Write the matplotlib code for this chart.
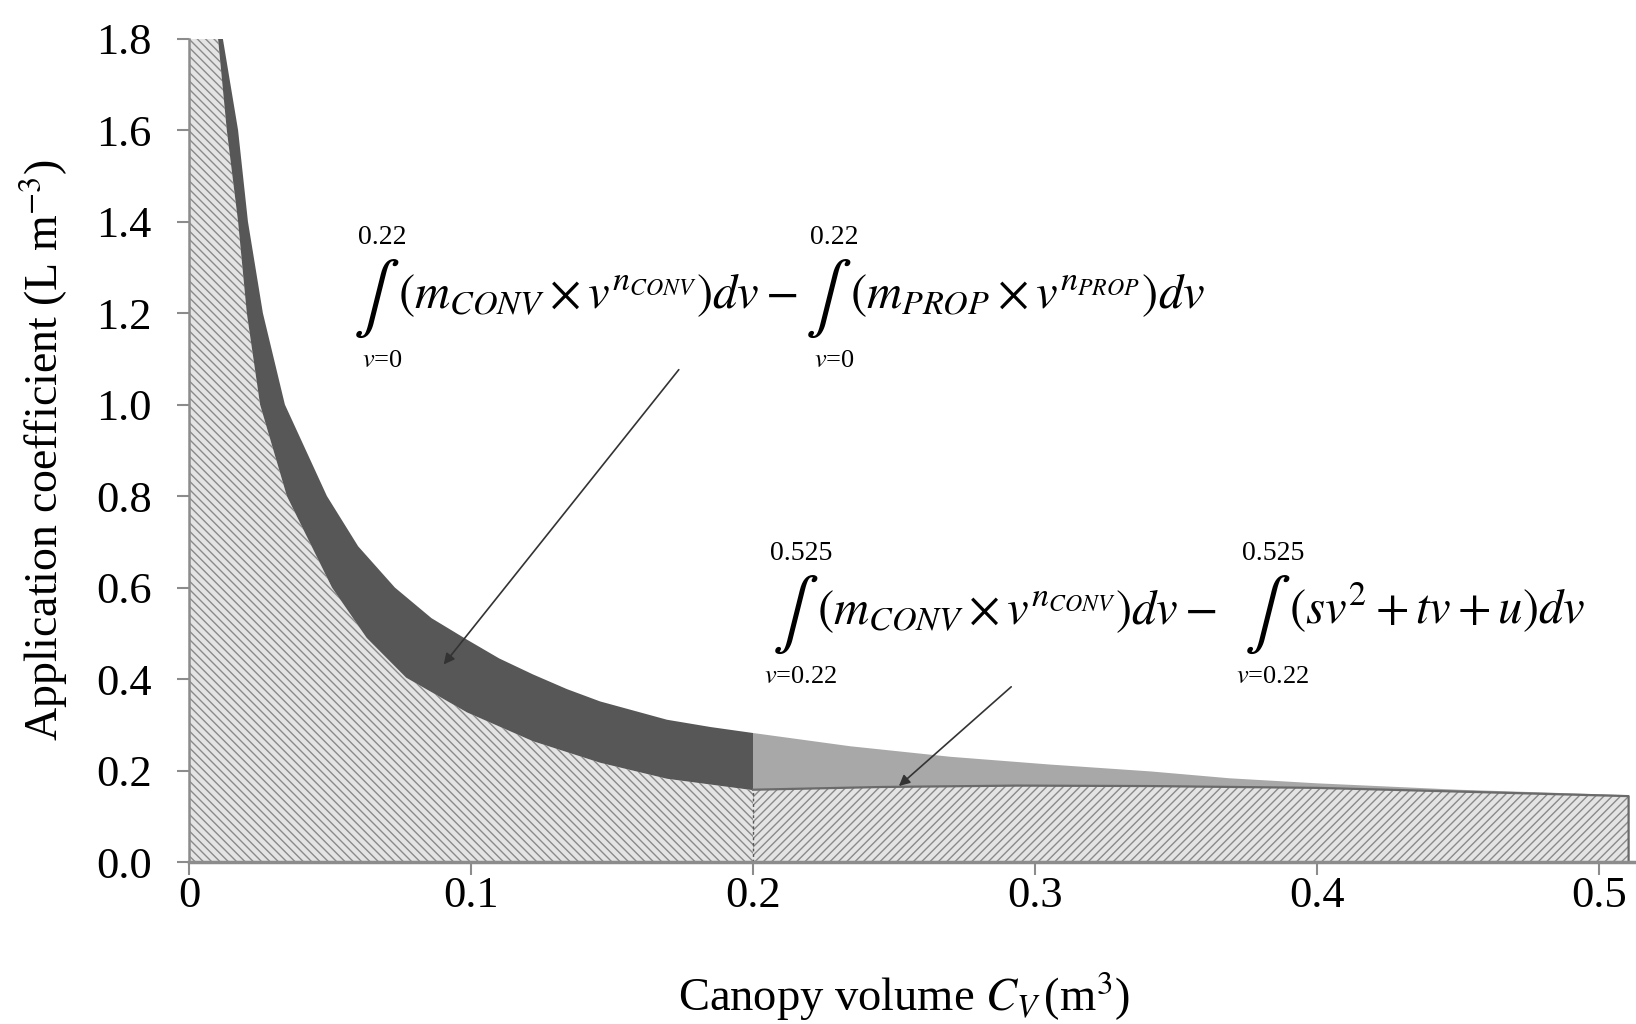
import numpy as np
import matplotlib.pyplot as plt

plt.rcParams['font.family'] = ['Liberation Serif', 'DejaVu Serif']
plt.rcParams['mathtext.fontset'] = 'stix'
plt.rcParams['hatch.linewidth'] = 1.0

# values
# upper curve: conventional application coefficient
conv_x = [0.0120, 0.0174, 0.0209, 0.0262, 0.0340, 0.0489, 0.0600, 0.0730, 0.0860, 0.0986,
          0.1100, 0.1220, 0.1340, 0.1458, 0.1695, 0.1850, 0.2000, 0.2345, 0.2700, 0.3054,
          0.3410, 0.3690, 0.4000, 0.4500, 0.5105]
conv_y = [1.80, 1.60, 1.40, 1.20, 1.00, 0.80, 0.690, 0.600, 0.533, 0.486,
          0.445, 0.410, 0.378, 0.351, 0.311, 0.295, 0.282, 0.253, 0.230, 0.213,
          0.198, 0.183, 0.172, 0.158, 0.146]
# lower curve: proportional application (up to 0.2)
prop_x = [0.0, 0.0103, 0.0134, 0.0174, 0.0205, 0.0252, 0.0347, 0.0507, 0.0630, 0.0770,
          0.0986, 0.1220, 0.1458, 0.1695, 0.2000]
prop_y = [1.80, 1.80, 1.60, 1.40, 1.20, 1.00, 0.80, 0.60, 0.490, 0.403,
          0.327, 0.264, 0.217, 0.182, 0.157]
# quadratic part (0.2 onwards)
quad_x = [0.2000, 0.2460, 0.2935, 0.3410, 0.4000, 0.4500, 0.5105]
quad_y = [0.158, 0.164, 0.167, 0.166, 0.162, 0.154, 0.144]
split_x = 0.2

x_ticks = [0, 0.1, 0.2, 0.3, 0.4, 0.5]
x_labels = ['0', '0.1', '0.2', '0.3', '0.4', '0.5']
y_ticks = [0.0, 0.2, 0.4, 0.6, 0.8, 1.0, 1.2, 1.4, 1.6, 1.8]

W, H = 1636, 1024
fig = plt.figure(figsize=(W / 100, H / 100), dpi=100)
ax = fig.add_axes([189 / W, 1 - 862 / H, (W - 189) / W, (862 - 38.6) / H])

conv_x = np.array(conv_x); conv_y = np.array(conv_y)
prop_x = np.array(prop_x); prop_y = np.array(prop_y)
quad_x = np.array(quad_x); quad_y = np.array(quad_y)
left = conv_x <= split_x
right = conv_x >= split_x

# hatched area under the proportional curve
ax.fill(np.r_[prop_x, prop_x[-1], 0], np.r_[prop_y, 0, 0],
        facecolor='#e4e4e4', edgecolor='#8a8a8a', hatch='\\\\\\\\', linewidth=0, zorder=1)
ax.fill(np.r_[quad_x, quad_x[-1], quad_x[0]], np.r_[quad_y, 0, 0],
        facecolor='#e4e4e4', edgecolor='#8a8a8a', hatch='////', linewidth=0, zorder=1)
ax.plot(np.r_[quad_x, quad_x[-1]], np.r_[quad_y, 0], color='#6a6a6a', lw=1.6, zorder=3)

# difference between conventional and proportional
ax.fill(np.r_[conv_x[left], prop_x[1:][::-1]], np.r_[conv_y[left], prop_y[1:][::-1]],
        facecolor='#575757', edgecolor='none', zorder=2)
ax.fill(np.r_[conv_x[right], quad_x[::-1]], np.r_[conv_y[right], quad_y[::-1]],
        facecolor='#a8a8a8', edgecolor='none', zorder=2)
ax.vlines(split_x, 0, prop_y[-1], colors='#555555', linestyles=(0, (2, 2)), lw=1, zorder=3)

ax.set_xlim(0, (W - 189) / 2820)
ax.set_ylim(0, 1.8)
ax.set_xticks(x_ticks)
ax.set_xticklabels(x_labels)
ax.set_yticks(y_ticks)
ax.set_yticklabels([f'{v:.1f}' for v in y_ticks])
for s in ['top', 'right']:
    ax.spines[s].set_visible(False)
ax.spines['left'].set_color('#8c8c8c')
ax.spines['left'].set_linewidth(1.8)
ax.spines['bottom'].set_color('#8c8c8c')
ax.spines['bottom'].set_linewidth(2.5)
ax.spines['left'].set_zorder(4)
ax.spines['bottom'].set_zorder(4)
ax.tick_params(axis='both', colors='#8c8c8c', labelcolor='black', labelsize=32,
               length=9, width=1.5, direction='out')
ax.tick_params(axis='y', pad=18)
ax.tick_params(axis='x', pad=1)


def ftext(px, py, s, size, **kw):
    fig.text(px / W, 1 - py / H, s, fontsize=size, **kw)


ftext(44, 450, 'Application coefficient (L m$^{-3}$)', 33, rotation=90,
      ha='center', va='center')
ftext(904, 996, r'Canopy volume $C_V\,$(m$^3$)', 33.5, ha='center', va='center')

# arrows
ax.annotate('', xy=(0.0897, 0.427), xytext=(0.1743, 1.081),
            arrowprops=dict(arrowstyle='-|>', color='#333333', lw=1.2, mutation_scale=16))
ax.annotate('', xy=(0.251, 0.162), xytext=(0.2923, 0.387),
            arrowprops=dict(arrowstyle='-|>', color='#333333', lw=1.2, mutation_scale=16))


def integral(px, py, top, bottom, lim_dy=62):
    # integral sign with its limits above and below
    ftext(px - 6, py, r'$\int$', 50, ha='center', va='center')
    ftext(px, py - lim_dy, top, 20, ha='center', va='center')
    ftext(px, py + lim_dy, bottom, 19, ha='center', va='center')


body_size = 35
# first equation
integral(382, 299, '0.22', r'$v$=0')
ftext(398, 308, r'$(m_{CONV}\times v^{n_{CONV}})dv-$', body_size, va='baseline')
integral(834, 299, '0.22', r'$v$=0')
ftext(850, 308, r'$(m_{PROP}\times v^{n_{PROP}})dv$', body_size, va='baseline')
# second equation
integral(801, 615, '0.525', r'$v$=0.22')
ftext(817, 624, r'$(m_{CONV}\times v^{n_{CONV}})dv-$', body_size, va='baseline')
integral(1273, 615, '0.525', r'$v$=0.22')
ftext(1289, 624, r'$(sv^2+tv+u)dv$', body_size, va='baseline')

fig.savefig('out.png', dpi=100)
